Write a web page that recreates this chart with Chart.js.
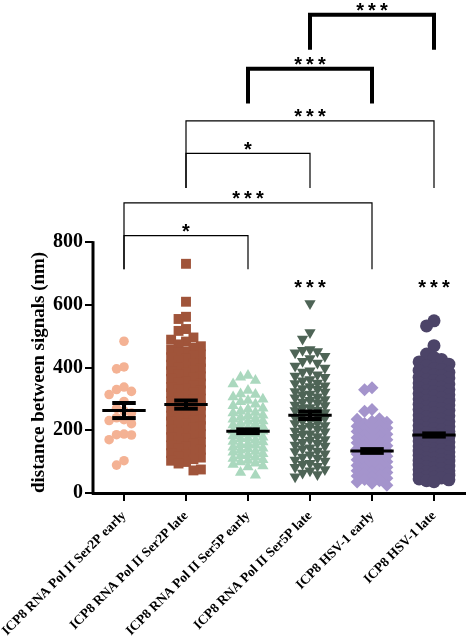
<!DOCTYPE html>
<html>
<head>
<meta charset="utf-8">
<script src="https://cdn.jsdelivr.net/npm/chart.js@4.4.1/dist/chart.umd.min.js"></script>
<style>
  html, body { margin: 0; padding: 0; background: #fff; }
  #wrap { width: 472px; height: 639px; }
</style>
</head>
<body>
<div id="wrap"><canvas id="dots"></canvas></div>
<script>
// groups on the x axis
const categories = [
  "ICP8 RNA Pol II Ser2P early",
  "ICP8 RNA Pol II Ser2P late",
  "ICP8 RNA Pol II Ser5P early",
  "ICP8 RNA Pol II Ser5P late",
  "ICP8 HSV-1 early",
  "ICP8 HSV-1 late"
];

// distance between signals (nm)
const ser2pEarly = [484, 402, 396, 338, 330, 324, 314, 292, 270, 262, 255, 240, 234, 231, 221, 188, 186, 185, 170, 103, 89];
const ser2pLate = [731, 610, 562, 555, 523, 517, 496, 489, 483, 474, 468, 463, 457, 451, 447, 442, 438, 433, 429, 424,
  418, 412, 409, 404, 401, 397, 392, 388, 383, 379, 372, 368, 364, 357, 352, 349, 343, 338, 334, 331, 327, 322, 318,
  311, 306, 301, 298, 292, 287, 283, 279, 276, 272, 268, 261, 257, 252, 247, 243, 238, 234, 231, 228, 222, 217, 213,
  208, 202, 199, 193, 188, 182, 178, 173, 167, 162, 158, 152, 147, 143, 138, 131, 127, 122, 118, 113, 108, 103, 99,
  94, 75, 72];
const ser5pEarly = [375, 369, 359, 348, 327, 316, 314, 306, 299, 295, 291, 283, 278, 270, 267, 261, 257, 255, 248, 246,
  241, 237, 235, 230, 228, 222, 219, 217, 212, 208, 207, 201, 198, 197, 192, 188, 187, 182, 178, 175, 173, 168, 164,
  163, 157, 154, 152, 146, 143, 141, 136, 132, 130, 125, 121, 119, 114, 110, 106, 104, 99, 95, 91, 86, 83, 65, 57];
const ser5pLate = [604, 512, 491, 458, 455, 451, 447, 436, 429, 420, 415, 405, 399, 390, 386, 377, 373, 369, 362, 358,
  351, 349, 342, 340, 333, 331, 324, 322, 316, 313, 307, 304, 298, 296, 290, 288, 281, 279, 273, 271, 265, 263, 257,
  255, 249, 247, 241, 239, 232, 230, 224, 222, 215, 213, 207, 204, 198, 195, 189, 187, 180, 178, 171, 169, 162, 159,
  153, 150, 144, 141, 134, 132, 125, 122, 115, 112, 105, 102, 95, 92, 85, 82, 75, 71, 64, 59, 52];
const hsv1Early = [336, 329, 266, 261, 237, 235, 229, 226, 222, 217, 213, 209, 207, 203, 198, 196, 191, 187, 185, 181,
  176, 174, 170, 165, 162, 160, 156, 151, 149, 145, 140, 138, 134, 131, 128, 124, 120, 117, 114, 110, 106, 103, 100,
  97, 93, 88, 86, 82, 79, 75, 71, 68, 65, 61, 57, 54, 50, 47, 43, 39, 35, 31, 25];
const hsv1Late = [549, 533, 470, 443, 432, 426, 418, 411, 406, 397, 394, 391, 385, 382, 377, 375, 369, 367, 362, 359,
  357, 351, 348, 346, 341, 337, 336, 330, 327, 324, 321, 317, 313, 310, 309, 303, 300, 296, 294, 290, 286, 283, 281,
  276, 273, 269, 266, 264, 259, 256, 254, 249, 246, 242, 240, 235, 233, 228, 225, 222, 219, 215, 212, 208, 206, 201,
  199, 196, 192, 188, 186, 181, 179, 176, 172, 169, 166, 163, 159, 157, 153, 150, 147, 144, 140, 138, 134, 131, 129,
  126, 122, 120, 116, 113, 111, 107, 104, 102, 98, 95, 93, 89, 86, 84, 80, 77, 75, 71, 68, 66, 62, 59, 57, 53, 50,
  48, 45, 42, 39, 36];
const groups = [ser2pEarly, ser2pLate, ser5pEarly, ser5pLate, hsv1Early, hsv1Late];

// mean and SEM as drawn by the black bars
const means = [263, 282, 197, 248, 134, 185];
const sems = [24, 13, 6, 12, 6, 5];

const yTicks = [0, 200, 400, 600, 800];

// significance brackets: group index from / to, height of bar and feet (nm)
const bracketFrom = [3, 2, 1, 1, 0, 0];
const bracketTo = [5, 4, 5, 3, 4, 2];
const bracketTop = [1525, 1353, 1187, 1083, 925, 821];
const bracketFoot = [1414, 1242, 973, 973, 714, 714];
const bracketText = ["***", "***", "***", "*", "***", "*"];
const bracketHeavy = [true, true, false, false, false, false];

// stars straight above single groups
const starGroups = [3, 5];
const starText = ["***", "***"];
const starLevel = 634;

const colors = ["#F4B294", "#A0543A", "#AAD8BE", "#4E6456", "#A494CC", "#4C4468"];
const shapes = ["circle", "rect", "triangle", "triangle", "rectRot", "circle"];
const turns = [0, 0, 0, 180, 0, 0];
const radii = [4.8, 7, 6.5, 6.5, 6.5, 6.5];

const serif = "'Liberation Serif', 'Times New Roman', serif";

// put the dots into 5 columns like a prism scatter plot
function swarm(values, idx, gap) {
  const cols = [0, -1, 1, -2, 2];
  const colStep = 0.12;
  const last = {};
  return values.slice().sort((a, b) => b - a).map(v => {
    const py = v * 0.315;
    let pick = null, best = null, bestD = -1;
    for (const c of cols) {
      const d = last[c] === undefined ? Infinity : last[c] - py;
      if (d >= gap) { pick = c; break; }
      if (d > bestD) { bestD = d; best = c; }
    }
    if (pick === null) pick = best;
    last[pick] = py;
    return { x: idx + pick * colStep, y: v };
  });
}

const datasets = groups.map((vals, i) => ({
  label: categories[i],
  data: swarm(vals, i, radii[i] * 1.7),
  pointStyle: shapes[i],
  rotation: turns[i],
  pointRadius: radii[i],
  pointHoverRadius: radii[i],
  backgroundColor: colors[i],
  borderColor: colors[i],
  borderWidth: 0
}));

function seg(ctx, x1, y1, x2, y2) {
  ctx.beginPath();
  ctx.moveTo(x1, y1);
  ctx.lineTo(x2, y2);
  ctx.stroke();
}

const extras = {
  id: "extras",
  afterDatasetsDraw(chart) {
    const { ctx, chartArea, scales: { x, y } } = chart;
    ctx.save();
    ctx.strokeStyle = "#000";
    ctx.fillStyle = "#000";

    // y axis line, only up to the top tick
    ctx.lineWidth = 3;
    seg(ctx, chartArea.left, y.getPixelForValue(0) + 1.5, chartArea.left, y.getPixelForValue(yTicks[yTicks.length - 1]) - 1);

    // mean +- SEM
    means.forEach((m, i) => {
      const cx = x.getPixelForValue(i);
      const my = y.getPixelForValue(m);
      const hi = y.getPixelForValue(m + sems[i]);
      const lo = y.getPixelForValue(m - sems[i]);
      const half = x.getPixelForValue(i + 0.35) - cx;
      const cap = x.getPixelForValue(i + 0.19) - cx;
      ctx.lineWidth = 3;
      seg(ctx, cx - half, my, cx + half, my);
      ctx.lineWidth = 4;
      seg(ctx, cx, hi, cx, lo);
      seg(ctx, cx - cap, hi, cx + cap, hi);
      seg(ctx, cx - cap, lo, cx + cap, lo);
    });

    // brackets
    ctx.font = "bold 20px 'Liberation Sans', Arial, sans-serif";
    ctx.textAlign = "center";
    ctx.textBaseline = "alphabetic";
    ctx.letterSpacing = "4px";
    bracketFrom.forEach((a, i) => {
      const xa = x.getPixelForValue(a);
      const xb = x.getPixelForValue(bracketTo[i]);
      const yt = y.getPixelForValue(bracketTop[i]);
      const yb = y.getPixelForValue(bracketFoot[i]);
      ctx.lineWidth = bracketHeavy[i] ? 4 : 1.2;
      ctx.beginPath();
      ctx.moveTo(xa, yb);
      ctx.lineTo(xa, yt);
      ctx.lineTo(xb, yt);
      ctx.lineTo(xb, yb);
      ctx.stroke();
      ctx.fillText(bracketText[i], (xa + xb) / 2 + 2, yt + 2.5);
    });
    starGroups.forEach((g, i) => {
      ctx.fillText(starText[i], x.getPixelForValue(g) + 2, y.getPixelForValue(starLevel));
    });
    ctx.restore();
  }
};

new Chart("dots", {
  type: "scatter",
  data: { datasets: datasets },
  options: {
    responsive: true,
    maintainAspectRatio: false,
    animation: false,
    events: [],
    layout: { padding: { top: 5, right: 1, left: 0, bottom: 0 } },
    plugins: {
      legend: { display: false },
      tooltip: { enabled: false }
    },
    scales: {
      x: {
        type: "linear",
        min: -0.5,
        max: 5.5,
        afterBuildTicks: s => { s.ticks = categories.map((c, i) => ({ value: i })); },
        afterFit: s => { s.height = 146; s.paddingLeft = 0; s.paddingRight = 0; },
        ticks: {
          autoSkip: false,
          minRotation: 45,
          maxRotation: 45,
          padding: 7,
          color: "#000",
          font: { family: serif, weight: "bold", size: 13.5 },
          callback: v => categories[v]
        },
        grid: { drawOnChartArea: false, drawTicks: true, tickLength: 8, lineWidth: 2, color: "#000" },
        border: { display: true, width: 3, color: "#000" }
      },
      y: {
        type: "linear",
        min: 0,
        max: 1550,
        afterBuildTicks: s => { s.ticks = yTicks.map(v => ({ value: v })); },
        afterFit: s => { s.width = 93; s.paddingTop = 0; s.paddingBottom = 0; },
        ticks: {
          padding: 2,
          color: "#000",
          font: { family: serif, weight: "bold", size: 20 }
        },
        grid: { drawOnChartArea: false, drawTicks: true, tickLength: 8, lineWidth: 2, color: "#000" },
        border: { display: false },
        title: {
          display: true,
          text: "distance between signals (nm)",
          align: "start",
          color: "#000",
          font: { family: serif, weight: "bold", size: 19 },
          padding: { top: 28, bottom: 0 }
        }
      }
    }
  },
  plugins: [extras]
});
</script>
</body>
</html>
